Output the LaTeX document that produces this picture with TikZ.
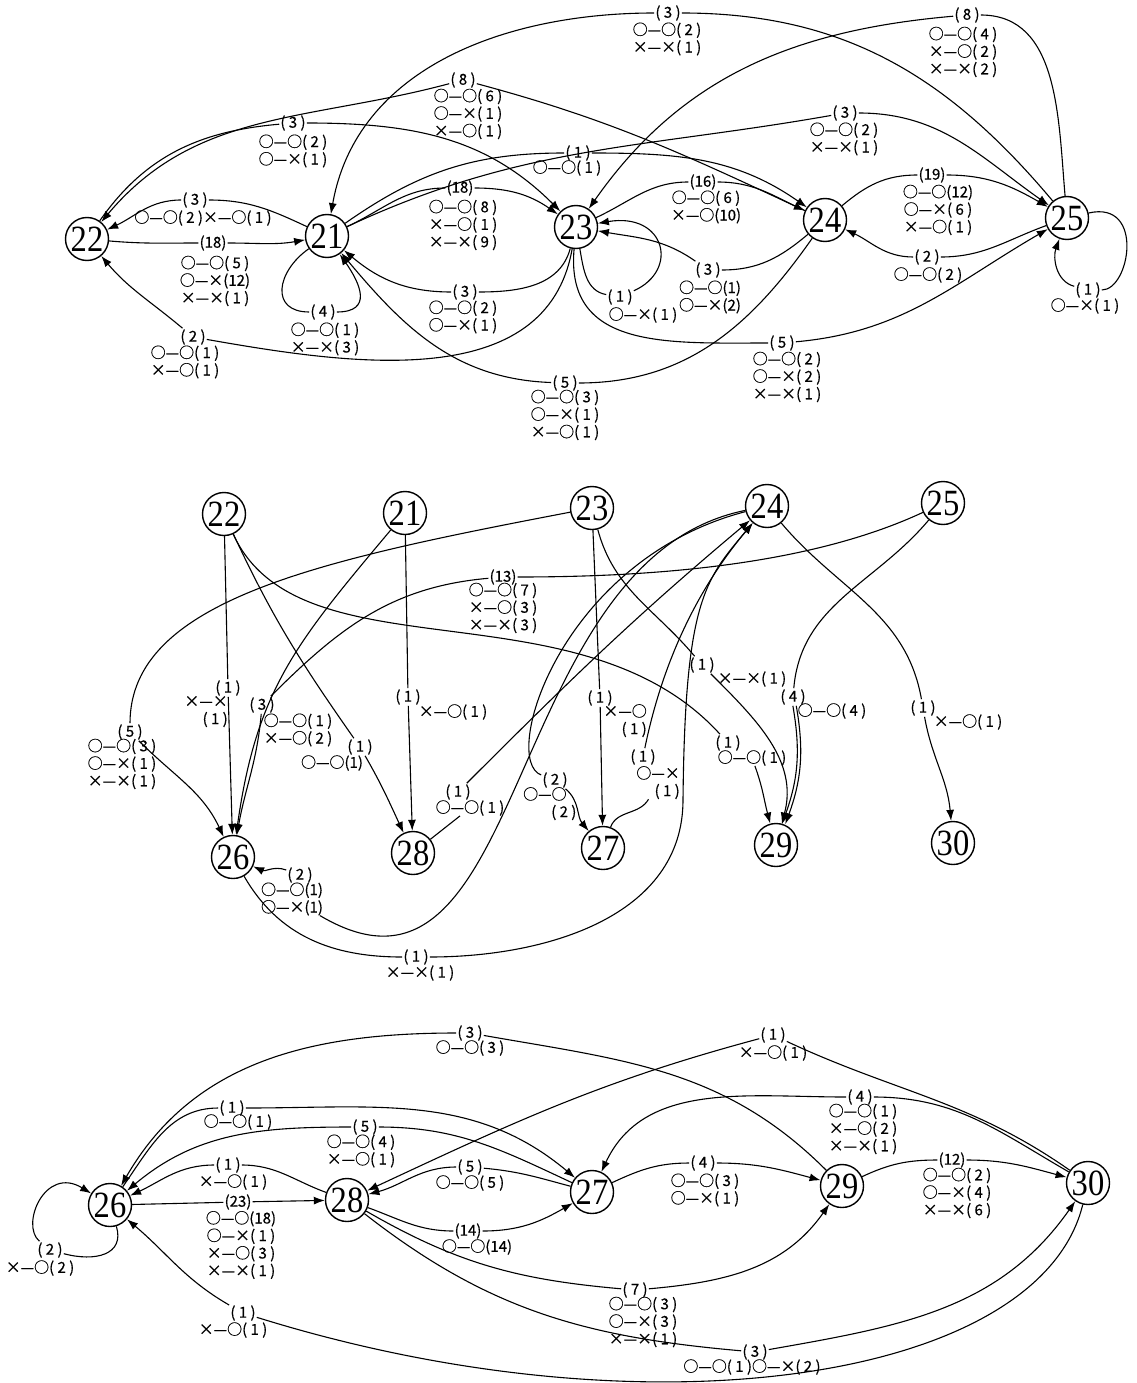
\documentclass[tikz,border=0pt]{standalone}
\usepackage{fontspec}
\usetikzlibrary{arrows.meta}
\newfontfamily\labfont{Noto Sans CJK SC}[FakeBold=0.5]
\newfontfamily\numfont{Liberation Serif}[FakeStretch=0.88]

\begin{document}
\begin{tikzpicture}[x=1pt,y=-1pt,
  st/.style={circle,draw,line width=1.4pt,minimum size=43pt,inner sep=0pt,font=\numfont\fontsize{37}{37}\selectfont},
  cnt/.style={inner sep=1pt,font=\labfont\fontsize{15}{17.5}\selectfont},
  det/.style={inner sep=0pt,align=center,font=\labfont\fontsize{15}{17.5}\selectfont},
  arr/.style={line width=1.1pt,-{Latex[length=11pt,width=8pt]}},
  ln/.style={line width=1.1pt}]
\useasboundingbox (0,0) rectangle (1136,1383);

% ---------------- top graph ----------------
\node[st] (u22) at (87,239) {22};
\node[st] (u21) at (327,236) {21};
\node[st] (u23) at (576,227) {23};
\node[st] (u24) at (825,220) {24};
\node[st] (u25) at (1067,218) {25};

\node[cnt] (uc1) at (213,243) {(18)};
\node[det] (ud1) at (215,281) {○—○( 5 )\\○—×(12)\\×—×( 1 )};
\node[cnt] (uc2) at (195,200) {( 3 )};
\node[det] (ud2) at (203,218) {○—○( 2 )×—○( 1 )};
\node[cnt] (uc3) at (323,312) {( 4 )};
\node[det] (ud3) at (325,339) {○—○( 1 )\\×—×( 3 )};
\node[cnt] (uc4) at (465,292) {( 3 )};
\node[det] (ud4) at (463,317) {○—○( 2 )\\○—×( 1 )};
\node[cnt] (uc5) at (193,337) {( 2 )};
\node[det] (ud5) at (185,362) {○—○( 1 )\\×—○( 1 )};
\node[cnt] (uc6) at (565,383) {( 5 )};
\node[det] (ud6) at (565,415) {○—○( 3 )\\○—×( 1 )\\×—○( 1 )};
\node[cnt] (uc7) at (620,297) {( 1 )};
\node[det] (ud7) at (643,315) {○—×( 1 )};
\node[cnt] (uc8) at (708,270) {( 3 )};
\node[det] (ud8) at (710,297) {○—○(1)\\○—×(2)};
\node[cnt] (uc9) at (782,343) {( 5 )};
\node[det] (ud9) at (787,377) {○—○( 2 )\\○—×( 2 )\\×—×( 1 )};
\node[cnt] (uc10) at (927,257) {( 2 )};
\node[det] (ud10) at (928,275) {○—○( 2 )};
\node[cnt] (uc11) at (932,175) {(19)};
\node[det] (ud11) at (938,210) {○—○(12)\\○—×( 6 )\\×—○( 1 )};
\node[cnt] (uc12) at (1088,290) {( 1 )};
\node[det] (ud12) at (1085,306) {○—×( 1 )};
\node[cnt] (uc13) at (703,182) {(16)};
\node[det] (ud13) at (706,207) {○—○( 6 )\\×—○(10)};
\node[cnt] (uc14) at (578,153) {( 1 )};
\node[det] (ud14) at (567,168) {○—○( 1 )};
\node[cnt] (uc15) at (460,188) {(18)};
\node[det] (ud15) at (463,225) {○—○( 8 )\\×—○( 1 )\\×—×( 9 )};
\node[cnt] (uc16) at (293,123) {( 3 )};
\node[det] (ud16) at (293,151) {○—○( 2 )\\○—×( 1 )};
\node[cnt] (uc17) at (463,80) {( 8 )};
\node[det] (ud17) at (468,114) {○—○( 6 )\\○—×( 1 )\\×—○( 1 )};
\node[cnt] (uc18) at (668,13) {( 3 )};
\node[det] (ud18) at (667,39) {○—○( 2 )\\×—×( 1 )};
\node[cnt] (uc19) at (845,113) {( 3 )};
\node[det] (ud19) at (844,139) {○—○( 2 )\\×—×( 1 )};
\node[cnt] (uc20) at (967,15) {( 8 )};
\node[det] (ud20) at (963,52) {○—○( 4 )\\×—○( 2 )\\×—×( 2 )};

\draw[arr] (u22) to[out=-5,in=180] (uc1) to[out=0,in=-170] (u21);
\draw[arr] (u21) to[out=155,in=0] (uc2) to[out=180,in=25] (u22);
\draw[arr] (u21) to[out=215,in=180,looseness=1.6] (uc3) to[out=0,in=-55,looseness=1.6] (u21);
\draw[arr] (u23) to[out=-105,in=0] (uc4) to[out=180,in=-40] (u21);
\draw[arr] (u23) to[out=-100,in=-10] (uc5) to[out=140,in=-50] (u22);
\draw[arr] (u24) to[out=-125,in=0] (uc6) to[out=178,in=-50] (u21);
\draw[arr] (u23) to[out=-80,in=170] (uc7) .. controls (680,270) and (665,212) .. (u23);
\draw[arr] (u24) to[out=-140,in=0] (uc8) to[out=145,in=-10] (u23);
\draw[arr] (u23) to[out=-95,in=180,looseness=1.2] (uc9) to[out=5,in=-150] (u25);
\draw[arr] (u25) to[out=-160,in=0] (uc10) to[out=180,in=-25] (u24);
\draw[arr] (u24) to[out=40,in=180] (uc11) to[out=0,in=150] (u25);
\draw[arr] (u25) .. controls (1145,200) and (1130,290) .. (uc12) to[out=165,in=-110] (u25);
\draw[arr] (u23) to[out=25,in=180] (uc13) to[out=0,in=155] (u24);
\draw[arr] (u21) to[out=35,in=180] (uc14) to[out=0,in=145] (u24);
\draw[arr] (u21) to[out=25,in=180] (uc15) to[out=0,in=145] (u23);
\draw[arr] (u22) to[out=55,in=185] (uc16) to[out=0,in=135] (u23);
\draw[arr] (u24) to[out=155,in=-15] (uc17) to[out=195,in=50] (u22);
\draw[arr] (u25) to[out=130,in=0] (uc18) to[out=180,in=80] (u21);
\draw[arr] (u21) to[out=25,in=190] (uc19) to[out=0,in=145] (u25);
\draw[arr] (u25) to[out=95,in=0] (uc20) to[out=185,in=55] (u23);

% ---------------- middle graph ----------------
\node[st] (m22) at (224,514) {22};
\node[st] (m21) at (405,513) {21};
\node[st] (m23) at (592,508) {23};
\node[st] (m24) at (767,506) {24};
\node[st] (m25) at (943,503) {25};
\node[st] (m26) at (233,857) {26};
\node[st] (m28) at (413,853) {28};
\node[st] (m27) at (603,848) {27};
\node[st] (m29) at (776,845) {29};
\node[st] (m30) at (953,843) {30};
\coordinate (k1) at (683,800);

\node[cnt] (mc1) at (228,688) {( 1 )};
\node[det,align=right,anchor=north east] (md1) at (228,696) {×—×\\( 1 )};
\node[cnt] (mc2) at (360,747) {( 1 )};
\node[det] (md2) at (332,763) {○—○(1)};
\node[cnt] (mc3) at (728,743) {( 1 )};
\node[det] (md3) at (752,758) {○—○( 1 )};
\node[cnt] (mc5) at (503,577) {(13)};
\node[det] (md5) at (503,608) {○—○( 7 )\\×—○( 3 )\\×—×( 3 )};
\node[cnt] (mc6) at (262,705) {( 3 )};
\node[det] (md6) at (298,730) {○—○( 1 )\\×—○( 2 )};
\node[cnt] (mc7) at (130,732) {( 5 )};
\node[det] (md7) at (122,764) {○—○( 3 )\\○—×( 1 )\\×—×( 1 )};
\node[cnt] (mc8) at (408,697) {( 1 )};
\node[det] (md8) at (453,712) {×—○( 1 )};
\node[cnt] (mc9) at (600,698) {( 1 )};
\node[det,align=right,anchor=north east] (md9) at (647,704) {×—○\\( 1 )};
\node[cnt] (mc10) at (702,665) {( 1 )};
\node[det] (md10) at (752,679) {×—×( 1 )};
\node[cnt] (mc11) at (555,780) {( 2 )};
\node[det,align=left,anchor=north west] (md11) at (523,787) {○—○\\\hspace*{28pt}( 2 )};
\node[cnt] (mc12) at (643,757) {( 1 )};
\node[det,align=right,anchor=north east] (md12) at (680,766) {○—×\\( 1 )};
\node[cnt] (mc13) at (416,957) {( 1 )};
\node[det] (md13) at (420,973) {×—×( 1 )};
\node[cnt] (mc14) at (458,792) {( 1 )};
\node[det] (md14) at (470,808) {○—○( 1 )};
\node[cnt] (mc15) at (923,708) {( 1 )};
\node[det] (md15) at (968,722) {×—○( 1 )};
\node[cnt] (mc16) at (793,697) {( 4 )};
\node[det] (md16) at (832,711) {○—○( 4 )};
\node[cnt] (mc17) at (300,875) {( 2 )};
\node[det] (md17) at (292,899) {○—○(1)\\○—×(1)};

\draw[arr] (m22) -- (mc1) -- (m26);
\draw[arr] (m22) to[out=-65,in=125] (mc2) to[out=-60,in=115] (m28);
\draw[ln] (m22) .. controls (300,680) and (580,580) .. (mc3);
\draw[arr] (md3) to[out=-70,in=105] (m29);
\draw[arr] (m21) to[out=-130,in=82,looseness=1.1] (m26);
\draw[ln] (m25) to[out=-155,in=0,looseness=0.8] (mc5) to[out=185,in=45] (mc6);
\draw[arr] (mc6) to[out=-95,in=80] (m26);
\draw[arr] (m23) .. controls (320,560) and (130,600) .. (mc7) to[out=-45,in=115] (m26);
\draw[arr] (m21) -- (mc8) -- (m28);
\draw[arr] (m23) -- (mc9) -- (m27);
\draw[arr] (m23) to[out=-75,in=130] (mc10) to[out=-45,in=75] (m29);
\draw[arr] (m24) .. controls (560,560) and (500,760) .. (mc11) to[out=-40,in=130] (m27);
\draw[ln] (m24) .. controls (500,560) and (530,1040) .. (md17);
\draw[arr] (mc17) to[out=160,in=-25] (m26);
\draw[arr] (m26) to[out=-60,in=180] (mc13) to[out=0,in=-90] (k1) .. controls (685,600) and (705,580) .. (m24);
\draw[ln] (m27) to[out=70,in=-120] (md12);
\draw[arr] (mc12) .. controls (665,650) and (705,580) .. (m24);
\draw[ln] (m28) -- (md14);
\draw[arr] (mc14) to[out=45,in=-140] (m24);
\draw[arr] (m24) to[out=-50,in=100] (mc15) to[out=-80,in=95] (m30);
\draw[ln] (m25) to[out=-130,in=85] (mc16);
\draw[arr,transform canvas={xshift=-1.7pt}] (mc16) to[out=-80,in=70] (m29);
\draw[arr,transform canvas={xshift=1.7pt}] (mc16) to[out=-80,in=70] (m29);

% ---------------- bottom graph ----------------
\node[st] (w26) at (110,1205) {26};
\node[st] (w28) at (347,1200) {28};
\node[st] (w27) at (592,1192) {27};
\node[st] (w29) at (842,1186) {29};
\node[st] (w30) at (1088,1183) {30};

\node[cnt] (wc1) at (50,1250) {( 2 )};
\node[det] (wd1) at (40,1268) {×—○( 2 )};
\node[cnt] (wc2) at (238,1202) {(23)};
\node[det] (wd2) at (241,1245) {○—○(18)\\○—×( 1 )\\×—○( 3 )\\×—×( 1 )};
\node[cnt] (wc3) at (228,1165) {( 1 )};
\node[det] (wd3) at (233,1182) {×—○( 1 )};
\node[cnt] (wc4) at (365,1127) {( 5 )};
\node[det] (wd4) at (361,1151) {○—○( 4 )\\×—○( 1 )};
\node[cnt] (wc5) at (232,1108) {( 1 )};
\node[det] (wd5) at (238,1122) {○—○( 1 )};
\node[cnt] (wc6) at (470,1033) {( 3 )};
\node[det] (wd6) at (470,1048) {○—○( 3 )};
\node[cnt] (wc7) at (773,1035) {( 1 )};
\node[det] (wd7) at (773,1053) {×—○( 1 )};
\node[cnt] (wc8) at (860,1097) {( 4 )};
\node[det] (wd8) at (863,1129) {○—○( 1 )\\×—○( 2 )\\×—×( 1 )};
\node[cnt] (wc9) at (703,1163) {( 4 )};
\node[det] (wd9) at (705,1190) {○—○( 3 )\\○—×( 1 )};
\node[cnt] (wc10) at (952,1160) {(12)};
\node[det] (wd10) at (957,1193) {○—○( 2 )\\○—×( 4 )\\×—×( 6 )};
\node[cnt] (wc11) at (470,1167) {( 5 )};
\node[det] (wd11) at (470,1183) {○—○( 5 )};
\node[cnt] (wc12) at (468,1231) {(14)};
\node[det] (wd12) at (477,1247) {○—○(14)};
\node[cnt] (wc13) at (635,1290) {( 7 )};
\node[det] (wd13) at (643,1322) {○—○( 3 )\\○—×( 3 )\\×—×( 1 )};
\node[cnt] (wc14) at (755,1352) {( 3 )};
\node[det] (wd14) at (752,1367) {○—○( 1 )○—×( 2 )};
\node[cnt] (wc15) at (243,1313) {( 1 )};
\node[det] (wd15) at (233,1330) {×—○( 1 )};

\draw[arr] (w26) .. controls (125,1255) and (95,1262) .. (wc1) .. controls (20,1225) and (45,1165) .. (w26);
\draw[arr] (w26) -- (wc2) -- (w28);
\draw[arr] (w28) to[out=160,in=0] (wc3) to[out=180,in=25] (w26);
\draw[arr] (w27) to[out=155,in=0] (wc4) to[out=180,in=40] (w26);
\draw[arr] (w26) to[out=55,in=180] (wc5) to[out=0,in=140] (w27);
\draw[arr] (w29) to[out=135,in=-10] (wc6) to[out=180,in=60] (w26);
\draw[arr] (w30) to[out=145,in=-25] (wc7) to[out=195,in=25] (w28);
\draw[arr] (w30) to[out=150,in=0] (wc8) to[out=180,in=65] (w27);
\draw[arr] (w27) to[out=25,in=180] (wc9) to[out=0,in=165] (w29);
\draw[arr] (w29) to[out=25,in=180] (wc10) to[out=0,in=165] (w30);
\draw[arr] (w27) to[out=165,in=-5] (wc11) to[out=180,in=15] (w28);
\draw[arr] (w28) to[out=-20,in=180] (wc12) to[out=0,in=-150] (w27);
\draw[arr] (w28) to[out=-30,in=175] (wc13) to[out=5,in=-125] (w29);
\draw[arr] (w28) to[out=-38,in=175] (wc14) to[out=10,in=-125] (w30);
\draw[arr] (w30) .. controls (1040,1380) and (650,1440) .. (wc15) to[out=150,in=-40] (w26);
\end{tikzpicture}
\end{document}
